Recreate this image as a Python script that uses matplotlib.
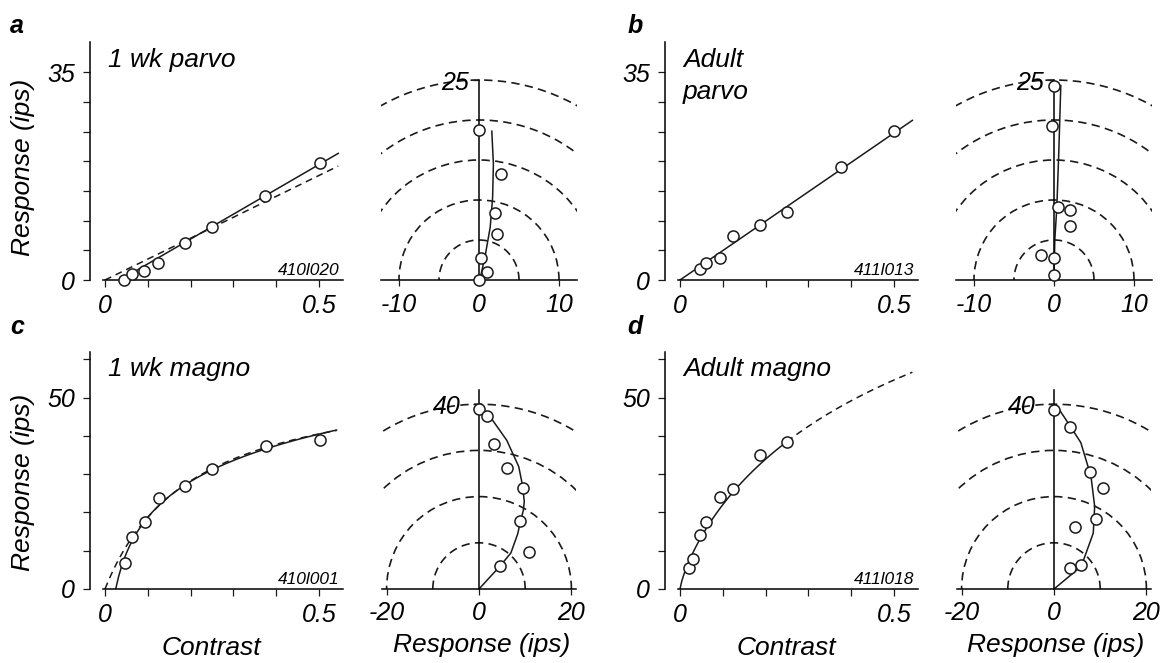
import numpy as np
import matplotlib
matplotlib.use('Agg')
import matplotlib.pyplot as plt
from matplotlib.patches import Arc

plt.rcParams['font.family'] = ['Liberation Sans', 'DejaVu Sans']
plt.rcParams['font.style'] = 'italic'
plt.rcParams['axes.linewidth'] = 1.1

# contrast response data (contrast, ips)
c_parvo_1wk = [0.044, 0.062, 0.091, 0.124, 0.187, 0.249, 0.374, 0.502]
r_parvo_1wk = [0.0, 1.0, 1.5, 2.9, 6.3, 9.0, 14.1, 19.7]
c_parvo_ad = [0.046, 0.061, 0.093, 0.124, 0.188, 0.250, 0.376, 0.499]
r_parvo_ad = [1.8, 2.9, 3.7, 7.4, 9.2, 11.4, 19.1, 25.1]
c_magno_1wk = [0.046, 0.064, 0.093, 0.126, 0.188, 0.250, 0.375, 0.502]
r_magno_1wk = [6.8, 13.6, 17.4, 23.7, 26.8, 31.4, 37.4, 38.8]
c_magno_ad = [0.021, 0.031, 0.046, 0.061, 0.093, 0.124, 0.188, 0.250]
r_magno_ad = [5.5, 7.8, 14.0, 17.5, 24.0, 26.2, 35.0, 38.5]

# vector responses (x, y in ips)
vx_parvo_1wk = [0.0, 2.7, 2.0, 2.2, 0.25, 1.0, 0.0]
vy_parvo_1wk = [18.8, 13.2, 8.4, 5.7, 2.7, 1.0, 0.0]
vx_parvo_ad = [0.0, -0.2, 0.5, 2.0, 2.0, -1.6, 0.0, 0.0]
vy_parvo_ad = [24.3, 19.3, 9.1, 8.7, 6.8, 3.1, 2.8, 0.6]
vx_magno_1wk = [0.0, 1.8, 3.2, 6.0, 9.6, 8.9, 10.8, 4.5]
vy_magno_1wk = [38.9, 37.5, 31.4, 26.1, 21.8, 14.8, 8.0, 4.9]
vx_magno_ad = [0.0, 3.4, 7.7, 10.5, 9.0, 4.6, 5.9, 3.4]
vy_magno_ad = [38.7, 35.1, 25.3, 21.8, 15.2, 13.4, 5.3, 4.6]

# fitted vector trajectories
fx_parvo_1wk = [0.1, 0.75, 1.4, 1.7, 1.8, 1.6]
fy_parvo_1wk = [0.0, 2.9, 6.6, 10.3, 14.5, 18.6]
fx_parvo_ad = [0.0, 0.1, 0.35, 0.6, 0.85]
fy_parvo_ad = [0.0, 5.0, 9.0, 16.0, 24.3]
fx_magno_1wk = [0.0, 4.5, 6.9, 8.4, 9.0, 9.6, 9.8, 9.4, 8.6, 6.0, 2.4, 0.3]
fy_magno_1wk = [0.0, 4.9, 7.8, 12.0, 14.8, 17.0, 19.0, 22.5, 26.5, 32.2, 37.3, 39.3]
fx_magno_ad = [0.0, 5.9, 8.5, 8.8, 8.0, 5.8, 3.4, 1.1]
fy_magno_ad = [0.0, 4.9, 12.1, 17.9, 24.4, 31.7, 35.4, 38.9]

# fit parameters for the contrast curves
parvo_1wk_lin = (41.8, 0.035)      # gain, threshold (solid)
parvo_1wk_lin0 = 35.2              # gain through origin (dashed)
parvo_ad_lin = 49.5
magno_1wk_log = (13.5, 0.025)      # R = A ln(c / c0) (solid)
magno_1wk_h = (57.0, 0.204)        # Rmax, c50 (dashed)
magno_ad_nr = (125.0, 0.688, 0.8)  # Rmax, c50, n

INK = '#1a1a1a'
W, H = 1164, 663
XPX = 428.0
fig = plt.figure(figsize=(W / 100, H / 100), dpi=100)


def px_axes(left, top, right, bottom):
    return fig.add_axes([left / W, 1 - bottom / H, (right - left) / W, (bottom - top) / H])


def contrast_axes(x0, y0, ypx, ytop, ymajor, ystep, title, cell, title_y):
    ax = px_axes(x0 - 0.035 * XPX, y0 - ytop * ypx, x0 + 0.555 * XPX, y0)
    ax.set_xlim(-0.035, 0.555)
    ax.set_ylim(0, ytop)
    for s in ['top', 'right']:
        ax.spines[s].set_visible(False)
    ax.spines['left'].set_bounds(0, ytop)
    ax.spines['bottom'].set_bounds(-0.004, 0.555)
    ax.set_xticks([0, 0.5])
    ax.set_xticklabels(['0', '0.5'])
    ax.set_xticks([0.1, 0.2, 0.3, 0.4], minor=True)
    ax.set_yticks([0, ymajor])
    ax.set_yticklabels(['0', str(ymajor)])
    ax.set_yticks(np.arange(ystep, ytop - 1, ystep), minor=True)
    ax.tick_params(which='both', direction='out', length=5, width=0.9, color=INK)
    ax.tick_params(axis='y', which='major', labelsize=18, pad=6)
    ax.tick_params(axis='x', which='major', labelsize=18, pad=5)
    ax.patch.set_visible(False)
    fig.text(x0 / W + 3 / W, 1 - title_y / H, title, fontsize=19, ha='left', va='top',
             linespacing=1.4)
    ax.text(0.548, 0.35 / ypx * 5, cell, fontsize=12.5, ha='right', va='bottom')
    return ax


def polar_axes(cx, cy, ppu, xlim, ytop, axis_top, radii, rlab, xt, lab_pad):
    ax = px_axes(cx - xlim * ppu, cy - ytop * ppu, cx + xlim * ppu, cy)
    ax.set_xlim(-xlim, xlim)
    ax.set_ylim(0, ytop)
    for s in ['top', 'right']:
        ax.spines[s].set_visible(False)
    ax.spines['left'].set_position(('data', 0))
    ax.spines['left'].set_bounds(0, axis_top)
    for r in radii:
        ax.add_patch(Arc((0, 0), 2 * r, 2 * r, theta1=0, theta2=180, color=INK,
                         lw=1.2, ls=(0, (5.0, 3.2))))
    ax.set_xticks(xt)
    ax.set_xticklabels([str(v) for v in xt])
    ax.set_yticks([rlab])
    ax.set_yticklabels([str(rlab)])
    ax.tick_params(direction='out', length=4, width=0.9, color=INK, labelsize=18)
    ax.tick_params(axis='y', pad=lab_pad)
    ax.tick_params(axis='x', pad=5)
    ax.patch.set_visible(False)
    return ax


def dots(ax, x, y):
    ax.plot(x, y, 'o', ms=8.0, mfc='white', mec=INK, mew=1.1, clip_on=False, zorder=5)


# panel a
ax = contrast_axes(105, 280, 5.94, 40, 35, 5, '1 wk parvo', '410l020', 48)
cc = np.linspace(parvo_1wk_lin[1], 0.545, 50)
ax.plot(cc, parvo_1wk_lin[0] * (cc - parvo_1wk_lin[1]), color=INK, lw=1.1)
cc = np.linspace(0, 0.545, 50)
ax.plot(cc, parvo_1wk_lin0 * cc, color=INK, lw=1.1, ls=(0, (4.5, 3.2)))
dots(ax, c_parvo_1wk, r_parvo_1wk)

ax = polar_axes(479, 280, 8.0, 12.2, 25.8, 25, [5, 10, 15, 20, 25], 25, [-10, 0, 10], 3)
ax.plot(fx_parvo_1wk, fy_parvo_1wk, color=INK, lw=1.1)
dots(ax, vx_parvo_1wk, vy_parvo_1wk)

# panel b
ax = contrast_axes(680, 280, 5.94, 40, 35, 5, 'Adult\nparvo', '411l013', 48)
cc = np.linspace(0, 0.543, 50)
ax.plot(cc, parvo_ad_lin * cc, color=INK, lw=1.1)
dots(ax, c_parvo_ad, r_parvo_ad)

ax = polar_axes(1054, 280, 8.0, 12.2, 25.8, 25, [5, 10, 15, 20, 25], 25, [-10, 0, 10], 3)
ax.plot(fx_parvo_ad, fy_parvo_ad, color=INK, lw=1.1)
dots(ax, vx_parvo_ad, vy_parvo_ad)

# panel c
ax = contrast_axes(105, 589, 3.83, 62, 50, 10, '1 wk magno', '410l001', 357)
cc = np.linspace(magno_1wk_log[1], 0.541, 80)
ax.plot(cc, magno_1wk_log[0] * np.log(cc / magno_1wk_log[1]), color=INK, lw=1.1)
cc = np.linspace(0, 0.541, 80)
ax.plot(cc, magno_1wk_h[0] * cc / (cc + magno_1wk_h[1]), color=INK, lw=1.1,
        ls=(0, (4.5, 3.2)))
dots(ax, c_magno_1wk, r_magno_1wk)
fig.text(211 / W, 1 - 648 / H, 'Contrast', fontsize=19, ha='center', va='center')

ax = polar_axes(479, 589, 4.62, 21.0, 43.5, 43, [10, 20, 30, 40], 40, [-20, 0, 20], 9)
ax.plot(fx_magno_1wk, fy_magno_1wk, color=INK, lw=1.1)
dots(ax, vx_magno_1wk, vy_magno_1wk)
fig.text(482 / W, 1 - 645 / H, 'Response (ips)', fontsize=19, ha='center', va='center')

# panel d
ax = contrast_axes(680, 589, 3.83, 62, 50, 10, 'Adult magno', '411l018', 357)
rmax, c50, n = magno_ad_nr
cc = np.linspace(0, 0.25, 60)
ax.plot(cc, rmax * cc ** n / (cc ** n + c50 ** n), color=INK, lw=1.1)
cc = np.linspace(0.25, 0.543, 60)
ax.plot(cc, rmax * cc ** n / (cc ** n + c50 ** n), color=INK, lw=1.1, ls=(0, (4.5, 3.2)))
dots(ax, c_magno_ad, r_magno_ad)
fig.text(786 / W, 1 - 648 / H, 'Contrast', fontsize=19, ha='center', va='center')

ax = polar_axes(1054, 589, 4.62, 21.0, 43.5, 43, [10, 20, 30, 40], 40, [-20, 0, 20], 9)
ax.plot(fx_magno_ad, fy_magno_ad, color=INK, lw=1.1)
dots(ax, vx_magno_ad, vy_magno_ad)
fig.text(1056 / W, 1 - 645 / H, 'Response (ips)', fontsize=19, ha='center', va='center')

# shared labels
for yc in [167, 482]:
    fig.text(23 / W, 1 - yc / H, 'Response (ips)', fontsize=19, rotation=90,
             ha='center', va='center')
for lab, x, y in [('a', 17, 26), ('b', 635, 26), ('c', 17, 327), ('d', 635, 327)]:
    fig.text(x / W, 1 - y / H, lab, fontsize=18, fontweight='bold', ha='center', va='center')

fig.savefig('out.png', dpi=100)
